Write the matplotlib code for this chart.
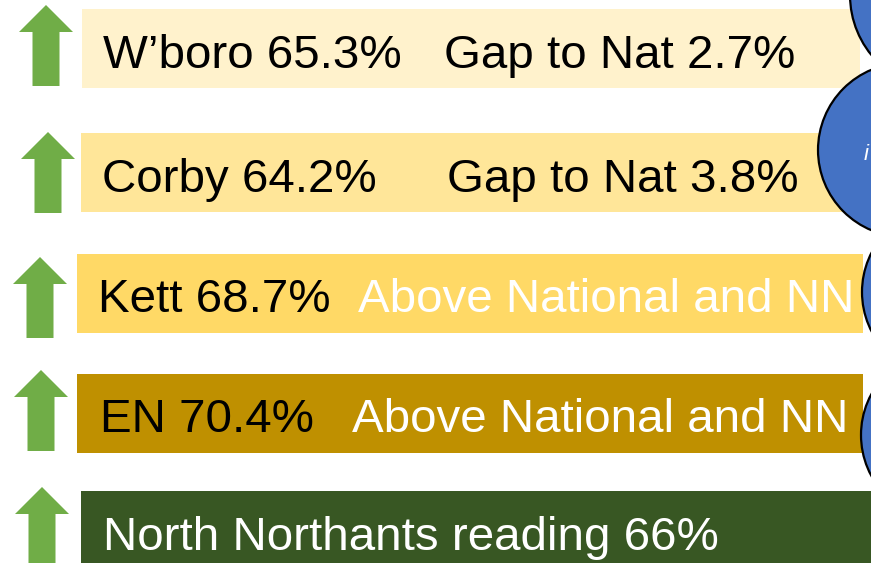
import matplotlib
matplotlib.use("Agg")
import matplotlib.pyplot as plt
from matplotlib.patches import Rectangle, Polygon, Circle

plt.rcParams['font.family'] = ['Liberation Sans', 'DejaVu Sans']

# rows of the summary
areas = ["W\u2019boro", "Corby", "Kett", "EN"]
rates = [65.3, 64.2, 68.7, 70.4]
notes = ["Gap to Nat 2.7%", "Gap to Nat 3.8%",
         "Above National and NN", "Above National and NN"]
total_label = "North Northants reading"
total_rate = 66

# layout (pixels, y down)
box_colors = ["#FFF2CC", "#FFE699", "#FFD966", "#BF9000"]
note_colors = ["black", "black", "white", "white"]
box_left = [82, 81, 77, 77]
box_top = [9, 133, 254, 374]
box_right = [860, 860, 863, 863]
box_h = 79
name_x = [103, 102, 98, 100]
note_x = [444, 447, 358, 352]
arrow_cx = [46, 48, 40, 41, 42]
arrow_tip = [5, 132, 257, 370, 487]
circ_c = [(945, -5), (905, 150), (948, 292), (947, 435)]
circ_r = [95, 87, 86, 86]
fs = 34.2

fig = plt.figure(figsize=(8.71, 5.63), dpi=100)
ax = fig.add_axes([0, 0, 1, 1])
ax.set_xlim(0, 871)
ax.set_ylim(563, 0)
ax.axis("off")

green = "#70AD47"


def up_arrow(cx, tip, length=81, head_w=54, shaft_w=27, head_h=27):
    pts = [(cx, tip), (cx + head_w / 2, tip + head_h),
           (cx + shaft_w / 2, tip + head_h), (cx + shaft_w / 2, tip + length),
           (cx - shaft_w / 2, tip + length), (cx - shaft_w / 2, tip + head_h),
           (cx - head_w / 2, tip + head_h)]
    ax.add_patch(Polygon(pts, closed=True, fc=green, ec="none", zorder=2))


for i in range(4):
    ax.add_patch(Rectangle((box_left[i], box_top[i]), box_right[i] - box_left[i],
                           box_h, fc=box_colors[i], ec="none", zorder=1))
    base = box_top[i] + box_h / 2 + 19
    ax.text(name_x[i], base, f"{areas[i]} {rates[i]}%", fontsize=fs,
            color="black", va="baseline", ha="left", zorder=5)
    ax.text(note_x[i], base, notes[i], fontsize=fs, color=note_colors[i],
            va="baseline", ha="left", zorder=5)
    up_arrow(arrow_cx[i], arrow_tip[i])

for (cx, cy), r in zip(circ_c, circ_r):
    ax.add_patch(Circle((cx, cy), r, fc="#4472C4", ec="black", lw=1.6, zorder=3))
ax.text(864, 160, "i", fontsize=16, color="white", style="italic",
        va="baseline", ha="left", zorder=4)

# last row: North Northants total
ax.add_patch(Rectangle((81, 491), 800, 80, fc="#385723", ec="none", zorder=6))
ax.text(103, 550, f"{total_label} {total_rate}%", fontsize=fs, color="white",
        va="baseline", ha="left", zorder=7)
up_arrow(arrow_cx[4], arrow_tip[4], length=90)

fig.savefig("out.png", dpi=100)
